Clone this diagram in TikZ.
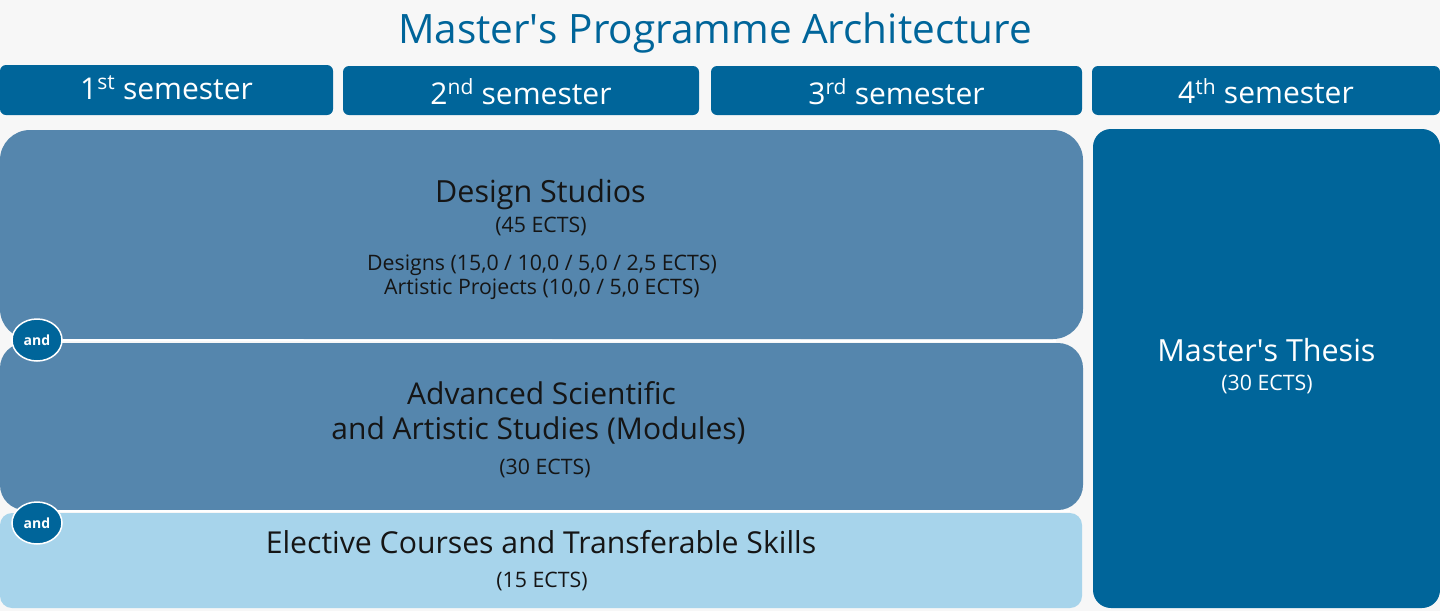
\documentclass[tikz,border=0pt]{standalone}
\usepackage{fontspec}
\setmainfont{Open Sans}
\usetikzlibrary{shapes.geometric}

\definecolor{semblue}{HTML}{00659A}
\definecolor{modblue}{HTML}{5586AD}
\definecolor{lightblue}{HTML}{A7D4EB}
\definecolor{bggrey}{HTML}{F7F7F7}
\definecolor{darktext}{HTML}{151515}

\newcommand{\fs}[2]{\fontsize{#1}{#2}\selectfont}

\tikzset{
	box/.style={anchor=north west, inner sep=0pt, outer sep=0pt},
	sembox/.style={box, fill=semblue, rounded corners=6pt, text=white, font=\fs{30}{36}},
	modbox/.style={box, fill=modblue},
	txt/.style={inner sep=0pt, anchor=base, text=darktext},
	ects/.style={txt, font=\fs{21.3}{26}},
	andnode/.style={ellipse, fill=semblue, draw=white, line width=1.5pt, minimum width=50pt, minimum height=42pt, inner sep=0pt, text=white, font=\fs{14}{16}\bfseries}
}

\begin{document}
\begin{tikzpicture}[x=1pt, y=-1pt]

%% Hintergrund
\fill[bggrey] (0,0) rectangle (1440,611);
\useasboundingbox (0,0) rectangle (1440,611);

%% Titel
\node[txt, text=semblue, font=\fs{40.5}{48}] (title) at (715,43.3) {Master\textquotesingle s Programme Architecture};

%% Semester
\node[sembox, minimum width=333pt, text height=34pt, text depth=16pt] (sem1) at (0,65) {1\textsuperscript{st} semester};
\node[sembox, minimum width=356pt, text height=38pt, text depth=11pt] (sem2) at (343,66) {2\textsuperscript{nd} semester};
\node[sembox, minimum width=371pt, text height=38pt, text depth=11pt] (sem3) at (711,66) {3\textsuperscript{rd} semester};
\node[sembox, minimum width=348pt, text height=37.5pt, text depth=11.5pt] (sem4) at (1092,66) {4\textsuperscript{th} semester};
%%%%%%%%%%%%%%%%

%% Module
\node[modbox, rounded corners=30pt, minimum width=1083pt, minimum height=209pt] (design) at (0,130) {};
\node[modbox, rounded corners=25pt, minimum width=1083pt, minimum height=167pt] (advanced) at (0,343) {};
\node[box, fill=lightblue, rounded corners=12pt, minimum width=1082pt, minimum height=95pt] (elective) at (0,513) {};
\node[box, fill=semblue, rounded corners=18pt, minimum width=347pt, minimum height=479pt] (thesis) at (1093,129) {};

\node[txt, font=\fs{30.5}{36}] (designT) at (540.5,202.3) {Design Studios};
\node[ects] (designE) at (541,232.7) {(45 ECTS)};
\node[ects] (designL1) at (542,270) {Designs (15,0 / 10,0 / 5,0 / 2,5 ECTS)};
\node[ects] (designL2) at (542,294.5) {Artistic Projects (10,0 / 5,0 ECTS)};

\node[txt, font=\fs{30}{36}] (advancedT1) at (541.5,404) {Advanced Scientific};
\node[txt, font=\fs{30}{36}] (advancedT2) at (538.5,439.5) {and Artistic Studies (Modules)};
\node[ects] (advancedE) at (545,474) {(30 ECTS)};

\node[txt, font=\fs{30.2}{36}] (electiveT) at (541,553.3) {Elective Courses and Transferable Skills};
\node[ects] (electiveE) at (542,587) {(15 ECTS)};

\node[txt, text=white, font=\fs{30.5}{36}] (thesisT) at (1266.5,361.7) {Master\textquotesingle s Thesis};
\node[ects, text=white] (thesisE) at (1267,390.7) {(30 ECTS)};
%%%%%%%%%%%%%%%%

%% Verknuepfung
\coordinate (sep1) at (1056,341);
\coordinate (sep2) at (1070,511.5);
\node[andnode] (and1) at (37,340) {and};
\node[andnode] (and2) at (37,523) {and};
\draw[white, line width=2pt] (and1.east) -- (sep1);
\draw[white, line width=2pt] (and2.30) -- (and2.30 -| sep2);

\end{tikzpicture}
\end{document}
